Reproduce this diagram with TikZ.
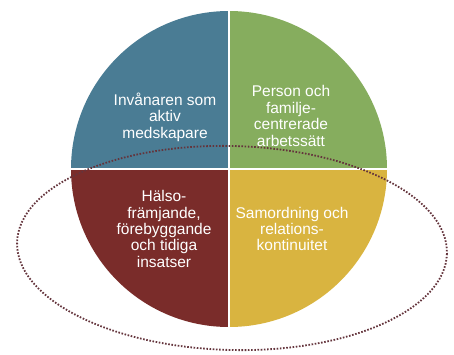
\documentclass[tikz,border=0pt]{standalone}
\usepackage{fontspec}
\setmainfont{Liberation Sans}
\usetikzlibrary{calc}

\definecolor{azul}{RGB}{74,124,148}
\definecolor{verde}{RGB}{134,173,94}
\definecolor{rojo}{RGB}{122,44,42}
\definecolor{amarillo}{RGB}{217,180,64}
\definecolor{punteado}{RGB}{100,52,60}

\begin{document}
\begin{tikzpicture}[x=1pt,y=-1pt,
    texto/.style={text=white,align=center,inner sep=0pt,font=\fontsize{15.5}{16.4}\selectfont}]
\useasboundingbox (0,0) rectangle (454,354);

\coordinate (C) at (229,169);  %---------------------------------------------------- centro del circulo

%---------------------------------------------------------------------------------------- CUADRANTES (y hacia abajo)
\fill[azul]     (C) -- ++(-158,0) arc(180:270:158) -- cycle;
\fill[verde]    (C) -- ++(0,-158) arc(270:360:158) -- cycle;
\fill[rojo]     (C) -- ++(-158,0) arc(180:90:158) -- cycle;
\fill[amarillo] (C) -- ++(158,0) arc(0:90:158) -- cycle;

\draw[white,line width=1.6pt] ($(C)+(-160,0)$) -- ($(C)+(160,0)$)   %------------------ separadores
                              ($(C)+(0,-160)$) -- ($(C)+(0,160)$);

%---------------------------------------------------------------------------------------- TEXTOS
\node[texto] (invanaren) at (165,117) {Invånaren som\\aktiv\\medskapare};
\node[texto] (person)    at (291,116) {Person och\\familje-\\centrerade\\arbetssätt};
\node[texto] (halso)     at (164,229) {Hälso-\\främjande,\\förebyggande\\och tidiga\\insatser};
\node[texto] (samordning) at (292,229) {Samordning och\\relations-\\kontinuitet};

%---------------------------------------------------------------------------------------- ELIPSE
\draw[punteado,line width=1.8pt,dash pattern=on 1.6pt off 1.6pt,rotate around={-1.5:(232,248)}]
     (232,248) ellipse (215 and 102);

\end{tikzpicture}
\end{document}
